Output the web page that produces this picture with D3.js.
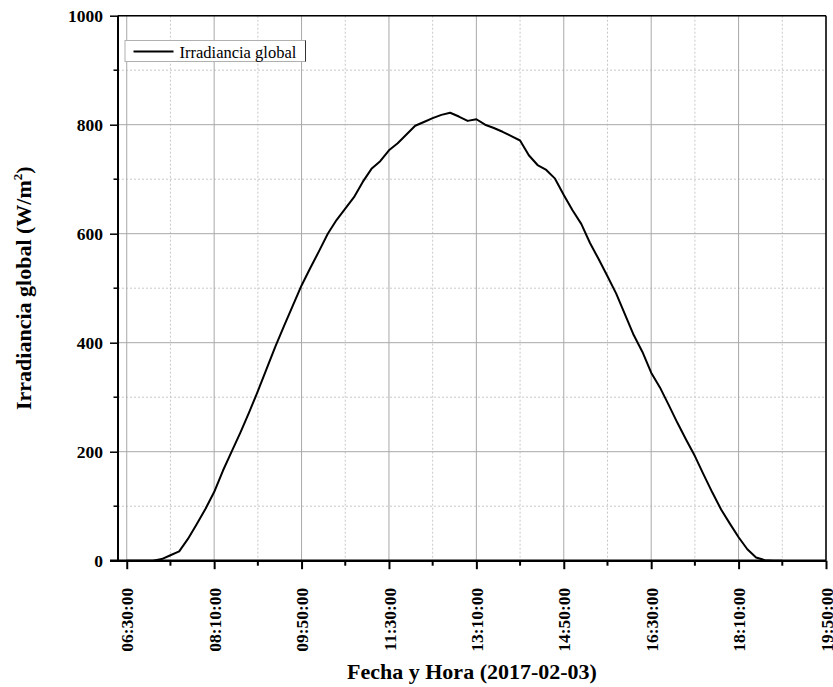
<!DOCTYPE html>
<html>
<head>
<meta charset="utf-8">
<script src="https://cdn.jsdelivr.net/npm/d3@7"></script>
<style>
  body { margin: 0; background: #fff; }
  svg { display: block; }
  text { font-family: "Liberation Serif", "Times New Roman", serif; }
</style>
</head>
<body>
<svg id="chart" width="833" height="687"></svg>
<script>
// ---- Data ----
const times = [
  "06:30","06:40","06:50","07:00","07:10","07:20","07:30","07:40","07:50","08:00",
  "08:10","08:20","08:30","08:40","08:50","09:00","09:10","09:20","09:30","09:40",
  "09:50","10:00","10:10","10:20","10:30","10:40","10:50","11:00","11:10","11:20",
  "11:30","11:40","11:50","12:00","12:10","12:20","12:30","12:40","12:50","13:00",
  "13:10","13:20","13:30","13:40","13:50","14:00","14:10","14:20","14:30","14:40",
  "14:50","15:00","15:10","15:20","15:30","15:40","15:50","16:00","16:10","16:20",
  "16:30","16:40","16:50","17:00","17:10","17:20","17:30","17:40","17:50","18:00",
  "18:10","18:20","18:30","18:40","18:50","19:00"
];
const irradiance = [
  0, 0, 0, 0, 3, 10, 17, 40, 67, 95,
  126, 165, 200, 235, 272, 311, 352, 393, 431, 468,
  505, 537, 568, 600, 625, 646, 667, 695, 719, 733,
  753, 766, 782, 798, 805, 812, 818, 822, 815, 807,
  810, 800, 794, 787, 779, 771, 744, 726, 717, 701,
  671, 643, 618, 583, 553, 522, 490, 452, 414, 383,
  345, 318, 286, 253, 222, 192, 158, 125, 94, 68,
  43, 21, 6, 1, 0, 0
];
const xMajorTicks = ["06:30","08:10","09:50","11:30","13:10","14:50","16:30","18:10","19:50"];
const xMinorTicks = ["07:20","09:00","10:40","12:20","14:00","15:40","17:20","19:00"];
const yMajorTicks = [0, 200, 400, 600, 800, 1000];
const yMinorTicks = [100, 300, 500, 700, 900];
const dateStr = "2017-02-03";
const xDomain = ["06:20", "19:50"];
const yDomain = [0, 1000];
const seriesName = "Irradiancia global";
const xTitle = "Fecha y Hora (2017-02-03)";

// ---- Chart ----
const parse = s => d3.utcParse("%Y-%m-%d %H:%M")(dateStr + " " + s);
const fmt = d3.utcFormat("%H:%M:%S");
const data = times.map((t, i) => ({ t: parse(t), v: irradiance[i] }));

const L = 118, R = 826, T = 15.7, B = 560.7;
const svg = d3.select("#chart");
const x = d3.scaleUtc().domain(xDomain.map(parse)).range([L, R]);
const y = d3.scaleLinear().domain(yDomain).range([B, T]);

const grid = svg.append("g");
// minor grid (dotted)
grid.selectAll(".vmin").data(xMinorTicks.map(parse)).join("line")
  .attr("x1", d => x(d)).attr("x2", d => x(d)).attr("y1", T).attr("y2", B)
  .attr("stroke", "#c8c8c8").attr("stroke-width", 1).attr("stroke-dasharray", "2,2");
grid.selectAll(".hmin").data(yMinorTicks).join("line")
  .attr("x1", L).attr("x2", R).attr("y1", d => y(d)).attr("y2", d => y(d))
  .attr("stroke", "#c8c8c8").attr("stroke-width", 1).attr("stroke-dasharray", "2,2");
// major grid (solid)
grid.selectAll(".vmaj").data(xMajorTicks.map(parse)).join("line")
  .attr("x1", d => x(d)).attr("x2", d => x(d)).attr("y1", T).attr("y2", B)
  .attr("stroke", "#a8a8a8").attr("stroke-width", 1);
grid.selectAll(".hmaj").data(yMajorTicks).join("line")
  .attr("x1", L).attr("x2", R).attr("y1", d => y(d)).attr("y2", d => y(d))
  .attr("stroke", "#a8a8a8").attr("stroke-width", 1);

// frame top/right
svg.append("line").attr("x1", L).attr("x2", R).attr("y1", T).attr("y2", T)
  .attr("stroke", "#000").attr("stroke-width", 1.5);
svg.append("line").attr("x1", R).attr("x2", R).attr("y1", T).attr("y2", B)
  .attr("stroke", "#000").attr("stroke-width", 1.5);

// line
svg.append("path").datum(data)
  .attr("fill", "none").attr("stroke", "#000").attr("stroke-width", 2)
  .attr("stroke-linejoin", "round")
  .attr("d", d3.line().x(d => x(d.t)).y(d => y(d.v)));

// x axis
const xAxis = svg.append("g").attr("transform", `translate(0,${B})`)
  .call(d3.axisBottom(x).tickValues(xMajorTicks.map(parse)).tickFormat(fmt).tickSize(8.5).tickSizeOuter(0));
xAxis.append("g").selectAll("line").data(xMinorTicks.map(parse)).join("line")
  .attr("x1", d => x(d)).attr("x2", d => x(d)).attr("y1", 0).attr("y2", 5)
  .attr("stroke", "#000").attr("stroke-width", 2);
xAxis.select(".domain").attr("stroke-width", 2.5).attr("d", `M${L - 8},0H${R}`);
xAxis.selectAll(".tick line").attr("stroke-width", 2);
xAxis.selectAll(".tick text")
  .attr("font-size", 17.5).attr("font-weight", "bold").attr("fill", "#000")
  .attr("text-anchor", "end")
  .attr("transform", "translate(0,27) rotate(-90)")
  .attr("x", 0).attr("y", 0).attr("dy", "0.35em");

// y axis
const yAxis = svg.append("g").attr("transform", `translate(${L},0)`)
  .call(d3.axisLeft(y).tickValues(yMajorTicks).tickFormat(d3.format("d")).tickSize(8).tickSizeOuter(0));
yAxis.append("g").selectAll("line").data(yMinorTicks).join("line")
  .attr("x1", -4.5).attr("x2", 0).attr("y1", d => y(d)).attr("y2", d => y(d))
  .attr("stroke", "#000").attr("stroke-width", 1.5);
yAxis.select(".domain").attr("stroke-width", 2).attr("d", `M0,${B}V${T}`);
yAxis.selectAll(".tick line").attr("stroke-width", 1.5);
yAxis.selectAll(".tick text")
  .attr("font-size", 17.5).attr("font-weight", "bold").attr("fill", "#000")
  .attr("x", -15).attr("dy", "0.35em");

// axis titles
svg.append("text").attr("x", (L + R) / 2).attr("y", 679)
  .attr("text-anchor", "middle").attr("font-size", 22).attr("font-weight", "bold")
  .text(xTitle);
const yt = svg.append("text")
  .attr("transform", `translate(31,${(T + B) / 2}) rotate(-90)`)
  .attr("text-anchor", "middle").attr("font-size", 22).attr("font-weight", "bold");
yt.append("tspan").text("Irradiancia global (W/m");
yt.append("tspan").attr("font-size", 13).attr("dy", -9).text("2");
yt.append("tspan").attr("dy", 9).text(")");

// legend
const lg = svg.append("g");
lg.append("rect").attr("x", 125).attr("y", 40.5).attr("width", 180.5).attr("height", 21)
  .attr("fill", "#fff").attr("stroke", "#b0b0b0").attr("stroke-width", 1);
lg.append("line").attr("x1", 305.5).attr("x2", 305.5).attr("y1", 40.5).attr("y2", 61.5)
  .attr("stroke", "#333").attr("stroke-width", 1);
lg.append("line").attr("x1", 133.5).attr("x2", 173.5).attr("y1", 51.5).attr("y2", 51.5)
  .attr("stroke", "#000").attr("stroke-width", 2);
lg.append("text").attr("x", 179.5).attr("y", 57.5).attr("font-size", 16.5)
  .attr("fill", "#000").text(seriesName);
</script>
</body>
</html>
